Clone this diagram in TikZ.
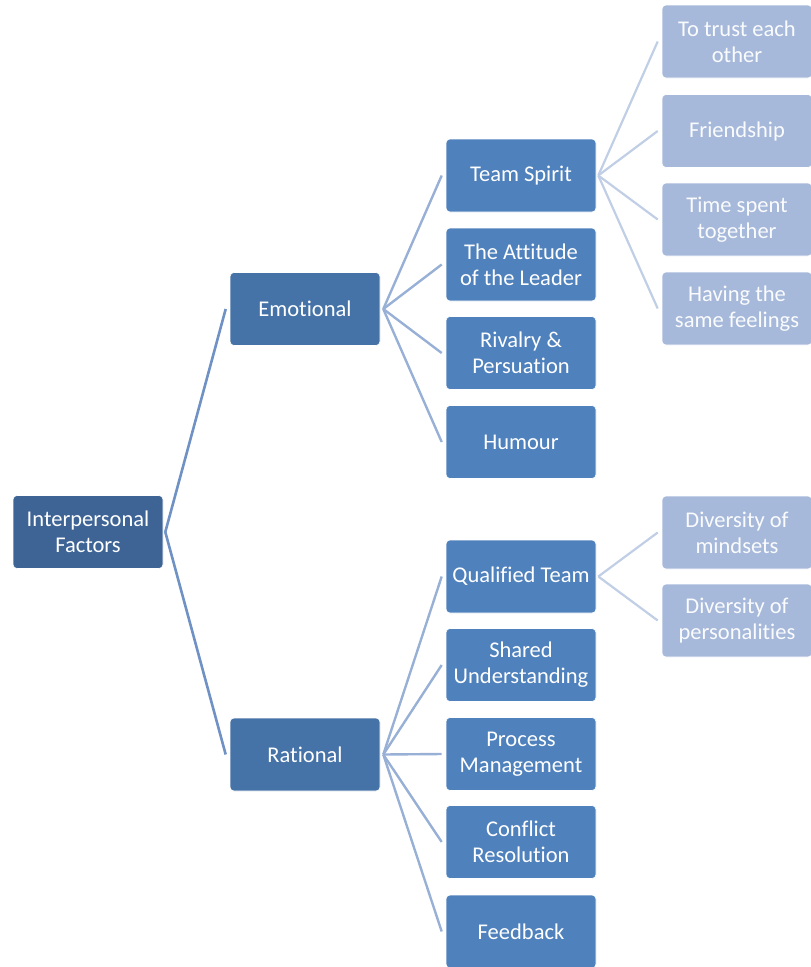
\documentclass[tikz,border=0pt]{standalone}
\usepackage{fontspec}
\setmainfont[Ligatures=CommonOff]{Carlito}
\definecolor{cRoot}{RGB}{62,100,150}
\definecolor{cL1}{RGB}{69,114,167}
\definecolor{cL2}{RGB}{79,129,189}
\definecolor{cL3}{RGB}{167,185,218}
\definecolor{kL1}{RGB}{112,145,196}
\definecolor{kL2}{RGB}{152,176,214}
\definecolor{kL3}{RGB}{192,206,230}
\begin{document}
\begin{tikzpicture}[x=1pt,y=-1pt,
  box/.style={rectangle, rounded corners=4pt, minimum width=150pt, minimum height=73pt,
    inner sep=0pt, align=center, text=white, draw=white, line width=0.6pt,
    font=\fontsize{22.5}{26}\selectfont},
  rootbox/.style={box, fill=cRoot},
  lonebox/.style={box, fill=cL1},
  ltwobox/.style={box, fill=cL2},
  lthreebox/.style={box, fill=cL3, text=white!94!cL3},
  linkA/.style={draw=kL1, line width=2.6pt},
  linkB/.style={draw=kL2, line width=2.4pt},
  linkC/.style={draw=kL3, line width=2.2pt}]
\useasboundingbox (0,0) rectangle (811,967);
% root
\node[rootbox] (root) at (88,532) {Interpersonal\\Factors};
% level 1
\node[lonebox] (emo) at (305,309) {Emotional};
\node[lonebox] (rat) at (305,754.5) {Rational};
% level 2 emotional
\node[ltwobox] (ts) at (521,175.5) {Team Spirit};
\node[ltwobox] (att) at (521,264.5) {The Attitude\\of the Leader};
\node[ltwobox] (riv) at (521,353) {Rivalry \&\\Persuation};
\node[ltwobox] (hum) at (521,442) {Humour};
% level 2 rational
\node[ltwobox] (qt) at (521,576.5) {Qualified Team};
\node[ltwobox] (su) at (521,665) {Shared\\Understanding};
\node[ltwobox] (pm) at (521,754) {Process\\Management};
\node[ltwobox] (cr) at (521,842) {Conflict\\Resolution};
\node[ltwobox] (fb) at (521,931.5) {Feedback};
% level 3
\node[lthreebox] (tr) at (737,41.5) {To trust each\\other};
\node[lthreebox] (fr) at (737,131) {Friendship};
\node[lthreebox] (tim) at (737,219.5) {Time spent\\together};
\node[lthreebox] (hav) at (737,308.5) {Having the\\same feelings};
\node[lthreebox] (dm) at (737,532.5) {Diversity of\\mindsets};
\node[lthreebox] (dp) at (737,620.5) {Diversity of\\personalities};
% connectors level 1
\draw[linkA] ([xshift=2pt]root.east) -- ([xshift=-4pt]emo.west);
\draw[linkA] ([xshift=2pt]root.east) -- ([xshift=-4pt]rat.west);
% connectors level 2
\foreach \c in {ts,att,riv,hum}
  \draw[linkB] ([xshift=3pt]emo.east) -- ([xshift=-4pt]\c.west);
\foreach \c in {qt,su,pm,cr,fb}
  \draw[linkB] ([xshift=3pt]rat.east) -- ([xshift=-4pt]\c.west);
% connectors level 3
\foreach \c in {tr,fr,tim,hav}
  \draw[linkC] ([xshift=2pt]ts.east) -- ([xshift=-4pt]\c.west);
\foreach \c in {dm,dp}
  \draw[linkC] ([xshift=2pt]qt.east) -- ([xshift=-4pt]\c.west);
\end{tikzpicture}
\end{document}
